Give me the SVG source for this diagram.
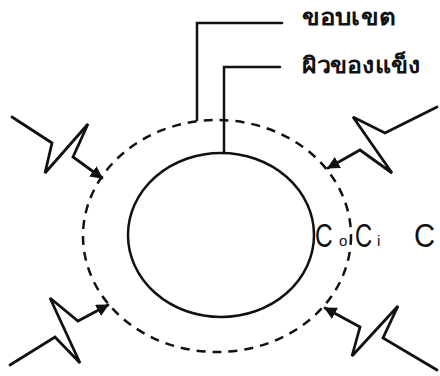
<svg xmlns="http://www.w3.org/2000/svg" width="440" height="376" viewBox="0 0 440 376">
<style>
.ln{fill:none;stroke:#111;stroke-width:2.5;stroke-linejoin:miter;stroke-linecap:round}
.zz{fill:none;stroke:#111;stroke-width:2.8;stroke-linejoin:miter;stroke-linecap:round}
.th{font-family:"Noto Sans","DejaVu Sans",sans-serif;font-weight:bold;font-size:22px;fill:#111}
.c{font-family:"Liberation Sans",Arial,sans-serif;fill:#111}
</style>
<defs>
<marker id="ah" viewBox="0 0 10 10" refX="9" refY="5" markerWidth="4.5" markerHeight="4.5" orient="auto" markerUnits="strokeWidth">
<path d="M0,0 L10,5 L0,10 z" fill="#111"/>
</marker>
</defs>
<rect width="440" height="376" fill="#fff"/>
<g id="boundary">
<ellipse cx="217" cy="236" rx="134" ry="116" fill="none" stroke="#111" stroke-width="2.5" stroke-dasharray="9 7"/>
</g>
<g id="solid-surface">
<ellipse cx="221" cy="235" rx="93" ry="82" fill="none" stroke="#111" stroke-width="2.5"/>
</g>
<g id="connectors">
<polyline class="ln" points="282,23 197,23 197,120"/>
<polyline class="ln" points="280,67 224,67 224,153"/>
<polyline class="zz" points="12,117 52,143 45,173 88,124 73,157 102,178" marker-end="url(#ah)"/>
<polyline class="zz" points="437,107 385,133 353,117 392,173 360,150 328,168" marker-end="url(#ah)"/>
<polyline class="zz" points="10,365 55,337 80,363 50,298 78,321 108,305" marker-end="url(#ah)"/>
<polyline class="zz" points="437,370 383,338 398,306 352,356 360,327 325,308" marker-end="url(#ah)"/>
</g>
<g id="label-boundary">
<text class="th" x="302" y="25" textLength="93" lengthAdjust="spacingAndGlyphs">ขอบเขต</text>
</g>
<g id="label-surface">
<text class="th" x="302" y="73" textLength="118" lengthAdjust="spacingAndGlyphs">ผิวของแข็ง</text>
</g>
<g id="label-conc">
<text class="c" transform="translate(315,247) scale(0.72,1)" font-size="34">C</text>
<text class="c" x="339" y="246" font-size="15">o</text>
<text class="c" transform="translate(355,247) scale(0.7,1)" font-size="34">C</text>
<text class="c" x="377" y="246" font-size="15">i</text>
<text class="c" transform="translate(414,247) scale(0.86,1)" font-size="34">C</text>
</g>
</svg>
